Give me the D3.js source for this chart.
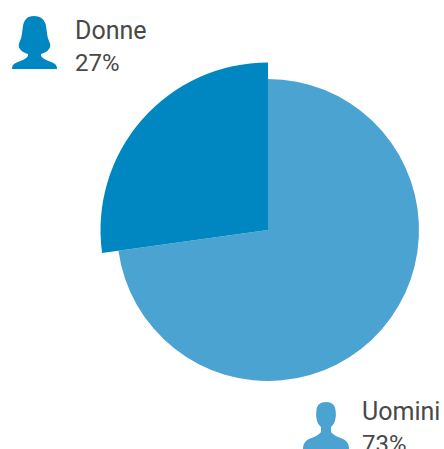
<!DOCTYPE html>
<html>
<head>
<meta charset="utf-8">
<script src="https://cdn.jsdelivr.net/npm/d3@7"></script>
<style>
  html, body { margin: 0; padding: 0; background: #fff; overflow: hidden; }
  text { font-family: Roboto, sans-serif; font-weight: 400; fill: #484848; }
  .name { font-size: 25px; }
  .share { font-size: 24px; }
</style>
</head>
<body>
<div id="container"></div>
<script>
// Share of women / men
const categories = [ 'Donne', 'Uomini' ];
const shares = [ 27, 73 ];
const colors = [ '#0087c1', '#4ba3d1' ];

const width = 444;
const height = 449;
const centerX = 268;
const centerY = 230;
const radii = [ 167.5, 151 ]; //--- the Donne slice sticks out
const startTweak = 0.012; //--- reference slice edge sits a touch lower than 27% exactly

const svg = d3.select( '#container' )
  .append( 'svg' )
  .attr( 'width', width )
  .attr( 'height', height );

//_____ PIE _____
//>>> Donne ends at 12 o'clock
const pieStart = -shares[ 0 ] / 100 * 2 * Math.PI - startTweak;
const pie = d3.pie()
  .sort( null )
  .startAngle( pieStart )
  .endAngle( pieStart + 2 * Math.PI )
  .value( d => d );

const arc = d3.arc().innerRadius( 0 );

//>>> Donne keeps its end at 0, the tweak goes to its start
const slices = pie( shares ).map( ( d, i ) => ( { ...d, i } ) );
slices[ 0 ].endAngle = 0;
slices[ 1 ].startAngle = 0;
slices.reverse(); //--- light slice first so the dark one sits on top

svg.append( 'g' )
  .attr( 'transform', `translate( ${centerX}, ${centerY} )` )
  .selectAll( 'path' )
  .data( slices )
  .enter().append( 'path' )
  .attr( 'd', d => arc.outerRadius( radii[ d.i ] )( d ) )
  .attr( 'fill', d => colors[ d.i ] );

//_____ ICONS _____
const womanIcon = 'M34 16 C27 16 24 20 23 26 C22 32 22 37 20 41 C18.5 44 18 47 20 49 C22 52 25 53 28 54 L28 56 C26 59 22 60.5 18 62 C14 63.5 12 65 12 69 L57 69 C57 65 55 63.5 51 62 C47 60.5 43 59 41 56 L41 54 C44 53 47 52 49 49 C51 47 50.5 44 49 41 C47 37 47 32 46 26 C45 20 41 16 34 16 Z';
const manIcon = 'M326 402 C320 402 317 405 316.5 410 C316 414 316 416 316.5 418 C317 422 318 424 321 427 L321 432 C319 435 314 437 309 439 C305 441 303 444 303 449 L349 449 C349 444 347 441 343 439 C338 437 333 435 331 432 L331 427 C334 424 335 422 335.5 418 C336 416 336 414 335.5 410 C335 405 332 402 326 402 Z';

svg.append( 'path' ).attr( 'd', womanIcon ).attr( 'fill', colors[ 0 ] );
svg.append( 'path' ).attr( 'd', manIcon ).attr( 'fill', colors[ 1 ] );

//_____ LABELS _____
svg.append( 'text' ).attr( 'class', 'name' ).attr( 'x', 75 ).attr( 'y', 39 ).text( categories[ 0 ] );
svg.append( 'text' ).attr( 'class', 'share' ).attr( 'x', 75 ).attr( 'y', 71 ).text( shares[ 0 ] + '%' );
svg.append( 'text' ).attr( 'class', 'name' ).attr( 'x', 362 ).attr( 'y', 420 ).text( categories[ 1 ] );
svg.append( 'text' ).attr( 'class', 'share' ).attr( 'x', 362 ).attr( 'y', 452 ).text( shares[ 1 ] + '%' );
</script>
</body>
</html>
